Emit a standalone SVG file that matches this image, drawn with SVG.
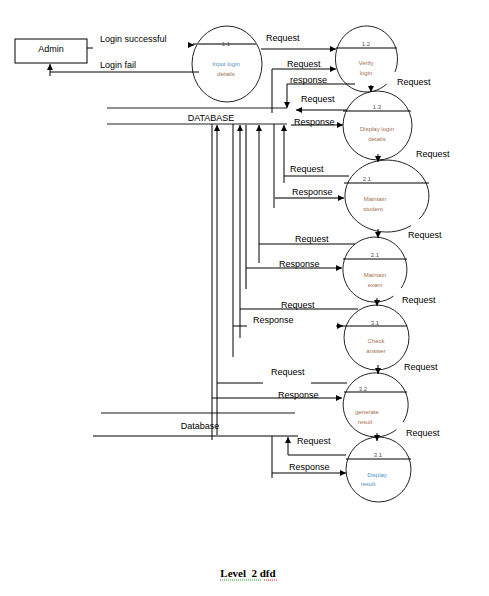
<svg xmlns="http://www.w3.org/2000/svg" width="489" height="596" viewBox="0 0 489 596">
<style>
.ln{fill:none;stroke:#000;stroke-width:1}
.gr{fill:none;stroke:#777;stroke-width:2}
.db{fill:none;stroke:#222;stroke-width:1.2}
.pr{fill:none;stroke:#222;stroke-width:1}
.lb{font-family:"Liberation Sans",Arial,sans-serif;font-size:9px;fill:#000}
.nm{font-family:"Liberation Sans",Arial,sans-serif;font-size:6px;fill:#555;text-anchor:middle}
.tx{font-family:"Liberation Sans",Arial,sans-serif;font-size:6px;fill:#a07050;text-anchor:middle}
.bl{fill:#4f8fc4}
.ttl{font-family:"Liberation Serif","Times New Roman",serif;font-size:11px;font-weight:bold;fill:#000;text-anchor:middle}
</style>
<defs>
<marker id="a" markerUnits="userSpaceOnUse" markerWidth="7" markerHeight="7" refX="6" refY="3" orient="auto">
<path d="M0,0 L6,3 L0,6 z" fill="#000"/>
</marker>
</defs>

<g id="admin">
<rect x="15" y="39" width="72" height="24" fill="#fff" stroke="#000" stroke-width="1"/>
<text class="lb" x="51" y="52" text-anchor="middle">Admin</text>
</g>

<g id="p1_1">
<ellipse cx="227" cy="64" rx="35" ry="38" class="pr"/>
<path d="M193,44 H257" class="gr"/>
<text class="nm" x="226" y="46" fill="#a09070">1.1</text>
<text class="tx bl" x="226" y="66">Input login</text>
<text class="tx" x="226" y="76">details</text>
</g>

<g id="p1_2">
<path d="M386.8,83.9 A31,33 0 1 1 395.0,71.9" class="pr"/>
<path d="M336,48 H397" class="ln"/>
<text class="nm" x="366" y="46">1.2</text>
<text class="tx" x="366" y="65">Verify</text>
<text class="tx" x="366" y="75">login</text>
</g>

<g id="p1_3">
<ellipse cx="377.5" cy="125.5" rx="34.5" ry="34.5" class="pr"/>
<path d="M343,111 H411" class="ln"/>
<text class="nm" x="377" y="109">1.3</text>
<text class="tx" x="377" y="131">Display login</text>
<text class="tx" x="377" y="141">details</text>
</g>

<g id="p2_1_student">
<path d="M411.1,225.5 A42,36 0 1 1 419.2,219.1" class="pr"/>
<path d="M344,183 H429" class="ln"/>
<text class="nm" x="367" y="181">2.1</text>
<text class="tx" x="375" y="201">Maintain</text>
<text class="tx" x="373" y="211">student</text>
</g>

<g id="p2_1_exam">
<path d="M393.4,296.1 A32,32.5 0 1 1 401.2,288.1" class="pr"/>
<path d="M343,259 H407" class="ln"/>
<text class="nm" x="375" y="257">2.1</text>
<text class="tx" x="375" y="277">Maintain</text>
<text class="tx" x="375" y="287">exam</text>
</g>

<g id="p3_1_check">
<ellipse cx="376.5" cy="337.5" rx="32.5" ry="32.5" class="pr"/>
<path d="M342,326 H407" class="ln"/>
<text class="nm" x="375" y="325">3.1</text>
<text class="tx" x="376" y="343">Check</text>
<text class="tx" x="376" y="353">answer</text>
</g>

<g id="p3_2">
<path d="M396.4,429.5 A32.5,32 0 1 1 403.1,422.0" class="pr"/>
<path d="M344,392 H407" class="ln"/>
<text class="nm" x="363" y="391">3.2</text>
<text class="tx" x="367" y="414">generate</text>
<text class="tx" x="365" y="424">result</text>
</g>

<g id="p3_1_display">
<ellipse cx="378.5" cy="469.5" rx="32.5" ry="32.5" class="pr"/>
<path d="M346,459 H411" class="ln"/>
<text class="nm" x="378" y="457">3.1</text>
<text class="tx bl" x="377" y="477">Display</text>
<text class="tx bl" x="368" y="486">result</text>
</g>

<g id="database1">
<path d="M107,108 H287 M107,124 H287" class="db"/>
<text class="lb" x="211" y="121" text-anchor="middle" font-size="8.5">DATABASE</text>
</g>

<g id="database2">
<path d="M101,413 H295" stroke="#666" stroke-width="1.3" fill="none"/>
<path d="M93,436 H298" stroke="#555" stroke-width="1.3" fill="none"/>
<text class="lb" x="200" y="429" text-anchor="middle" font-size="8.5">Database</text>
</g>

<g id="connectors">
<path d="M87,48 H93" class="ln"/>
<path d="M189,45 H194" class="ln" marker-end="url(#a)"/>
<path d="M199,72 H50 V64" class="ln" marker-end="url(#a)"/>
<path d="M50,72 V76" class="ln"/>
<path d="M261,49 H336" class="ln" marker-end="url(#a)"/>
<path d="M272,113 V69 H336" class="ln" marker-end="url(#a)"/>
<path d="M355,84 H287 V108" class="ln" marker-end="url(#a)"/>
<path d="M347,110 H296" class="ln" marker-end="url(#a)"/>
<path d="M291,125 H343" class="ln" marker-end="url(#a)"/>
<path d="M371,85 V92" class="ln" marker-end="url(#a)"/>
<path d="M378,154 V162" class="ln" marker-end="url(#a)"/>
<path d="M378,229 V238" class="ln" marker-end="url(#a)"/>
<path d="M377,298 V306" class="ln" marker-end="url(#a)"/>
<path d="M378,365 V374" class="ln" marker-end="url(#a)"/>
<path d="M377,433 V441" class="ln" marker-end="url(#a)"/>
<path d="M284,183 V125" class="ln" marker-end="url(#a)"/>
<path d="M284,176 H349" class="ln"/>
<path d="M274,124 V208" class="ln"/>
<path d="M274,198 H344" class="gr" marker-end="url(#a)"/>
<path d="M259,263 V125" class="ln" marker-end="url(#a)"/>
<path d="M259,244 H355" class="ln"/>
<path d="M246,124 V289" class="gr"/>
<path d="M246,268 H342" class="ln" marker-end="url(#a)"/>
<path d="M240,338 V125" class="ln" marker-end="url(#a)"/>
<path d="M240,309 H358" class="ln"/>
<path d="M233,124 V357" class="ln"/>
<path d="M233,326 H247" class="ln"/>
<path d="M336,326 H343" class="ln" marker-end="url(#a)"/>
<path d="M217,435 V125" class="ln" marker-end="url(#a)"/>
<path d="M217,383 H263 M311,383 H347" class="ln"/>
<path d="M212,124 V440" class="ln"/>
<path d="M212,398 H342" class="ln" marker-end="url(#a)"/>
<path d="M288,455 V437" class="ln" marker-end="url(#a)"/>
<path d="M288,455 H346" class="ln"/>
<path d="M272,436 V478" class="ln"/>
<path d="M272,473 H346" class="ln" marker-end="url(#a)"/>
</g>

<g id="labels">
<text class="lb" x="100" y="42">Login successful</text>
<text class="lb" x="100" y="68">Login fail</text>
<text class="lb" x="266" y="41">Request</text>
<text class="lb" x="287" y="67">Request</text>
<text class="lb" x="290" y="83">response</text>
<text class="lb" x="301" y="102">Request</text>
<text class="lb" x="294" y="125">Response</text>
<text class="lb" x="397" y="85">Request</text>
<text class="lb" x="416" y="157">Request</text>
<text class="lb" x="290" y="172">Request</text>
<text class="lb" x="292" y="195">Response</text>
<text class="lb" x="408" y="238">Request</text>
<text class="lb" x="295" y="242">Request</text>
<text class="lb" x="279" y="267">Response</text>
<text class="lb" x="402" y="303">Request</text>
<text class="lb" x="281" y="308">Request</text>
<text class="lb" x="253" y="323">Response</text>
<text class="lb" x="404" y="370">Request</text>
<text class="lb" x="271" y="375">Request</text>
<text class="lb" x="278" y="398">Response</text>
<text class="lb" x="406" y="436">Request</text>
<text class="lb" x="297" y="444">Request</text>
<text class="lb" x="289" y="470">Response</text>
</g>

<g id="title">
<text class="ttl" x="248" y="577">Level&#160; 2 dfd</text>
<path d="M220,580 H261" stroke="#2a9a2a" stroke-width="1" stroke-dasharray="1,1" fill="none"/>
<path d="M264,580 H278" stroke="#d02020" stroke-width="1" stroke-dasharray="1,1" fill="none"/>
</g>
</svg>
